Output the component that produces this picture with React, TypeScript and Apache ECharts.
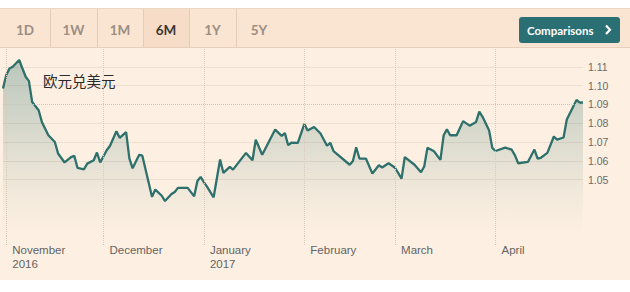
import { useEffect, useRef } from "react";
import * as echarts from "echarts";

const DATES = [
  "2016-10-31", "2016-11-01", "2016-11-02", "2016-11-03", "2016-11-05", "2016-11-06", "2016-11-07", "2016-11-08",
  "2016-11-09", "2016-11-11", "2016-11-12", "2016-11-14", "2016-11-16", "2016-11-17", "2016-11-19", "2016-11-21",
  "2016-11-22", "2016-11-23", "2016-11-25", "2016-11-26", "2016-11-28", "2016-11-29", "2016-11-30", "2016-12-02",
  "2016-12-03", "2016-12-05", "2016-12-06", "2016-12-08", "2016-12-09", "2016-12-10", "2016-12-12", "2016-12-13",
  "2016-12-16", "2016-12-17", "2016-12-19", "2016-12-20", "2016-12-22", "2016-12-23", "2016-12-24", "2016-12-27",
  "2016-12-29", "2016-12-30", "2016-12-31", "2017-01-01", "2017-01-02", "2017-01-04", "2017-01-06", "2017-01-07",
  "2017-01-09", "2017-01-10", "2017-01-14", "2017-01-16", "2017-01-17", "2017-01-19", "2017-01-23", "2017-01-25",
  "2017-01-26", "2017-01-27", "2017-01-28", "2017-01-30", "2017-02-01", "2017-02-02", "2017-02-04", "2017-02-06",
  "2017-02-08", "2017-02-09", "2017-02-10", "2017-02-15", "2017-02-16", "2017-02-17", "2017-02-18", "2017-02-20",
  "2017-02-22", "2017-02-24", "2017-02-25", "2017-02-27", "2017-03-01", "2017-03-03", "2017-03-04", "2017-03-07",
  "2017-03-09", "2017-03-10", "2017-03-11", "2017-03-13", "2017-03-15", "2017-03-16", "2017-03-17", "2017-03-18",
  "2017-03-20", "2017-03-22", "2017-03-24", "2017-03-26", "2017-03-27", "2017-03-28", "2017-03-30", "2017-03-31",
  "2017-04-01", "2017-04-04", "2017-04-06", "2017-04-07", "2017-04-08", "2017-04-11", "2017-04-13", "2017-04-14",
  "2017-04-15", "2017-04-17", "2017-04-19", "2017-04-20", "2017-04-22", "2017-04-23", "2017-04-26", "2017-04-27",
  "2017-04-28",
];

const RATES = [
  1.0985, 1.1056, 1.1091, 1.11, 1.1136, 1.1091, 1.1047, 1.1024,
  1.0913, 1.0869, 1.0807, 1.0736, 1.07, 1.0639, 1.0591, 1.062,
  1.0626, 1.0562, 1.0555, 1.0585, 1.0603, 1.0644, 1.0591, 1.0656,
  1.0679, 1.0757, 1.0722, 1.0752, 1.0613, 1.056, 1.0631, 1.0627,
  1.0408, 1.0447, 1.0414, 1.0386, 1.0423, 1.0434, 1.0456, 1.0456,
  1.0411, 1.0493, 1.0514, 1.0487, 1.0461, 1.0406, 1.0607, 1.0536,
  1.0568, 1.0553, 1.0642, 1.0603, 1.0712, 1.0632, 1.0766, 1.0733,
  1.0747, 1.0683, 1.0696, 1.0695, 1.0796, 1.0761, 1.078, 1.0745,
  1.068, 1.0696, 1.0652, 1.0579, 1.0599, 1.0672, 1.0612, 1.0612,
  1.0532, 1.0576, 1.0564, 1.0587, 1.0563, 1.0505, 1.062, 1.0579,
  1.0539, 1.057, 1.067, 1.0651, 1.0605, 1.0736, 1.0767, 1.0736,
  1.0736, 1.0811, 1.0787, 1.0807, 1.0862, 1.0834, 1.0763, 1.0669,
  1.0652, 1.067, 1.0659, 1.0629, 1.0587, 1.0594, 1.066, 1.0612,
  1.0616, 1.0642, 1.0729, 1.0713, 1.0724, 1.082, 1.0924, 1.0909,
  1.091,
];

const X_MIN = "2016-10-31";
const X_MAX = "2017-04-28";
const MONTH_STARTS = ["2016-11-01", "2016-12-01", "2017-01-01", "2017-02-01", "2017-03-01", "2017-04-01"];
const MONTH_LABELS = ["November\n2016", "December", "January\n2017", "February", "March", "April"];
const Y_MIN = 1.02;
const Y_MAX = 1.12;
const Y_STEP = 0.01;
const Y_LABEL_MIN = 1.05;
const Y_LABEL_MAX = 1.11;
const LAST_LEVEL = 1.09;
const TITLE = "欧元兑美元";
const RANGE_TABS = ["1D", "1W", "1M", "6M", "1Y", "5Y"];
const ACTIVE_TAB = "6M";
const BUTTON_TEXT = "Comparisons";

const ts = (d: string) => +echarts.time.parse(d);

export default function App() {
  const ref = useRef<HTMLDivElement>(null);

  useEffect(() => {
    if (!ref.current) return;
    const chart = echarts.init(ref.current, undefined, { renderer: "svg" });
    const monthTs = MONTH_STARTS.map(ts);

    const splitColors: string[] = [];
    const nTicks = Math.round((Y_MAX - Y_MIN) / Y_STEP) + 1;
    for (let i = 0; i < nTicks; i++) {
      const r = Math.round((Y_MIN + i * Y_STEP) * 100) / 100;
      const show = r >= Y_LABEL_MIN - 1e-9 && r <= Y_LABEL_MAX + 1e-9 && Math.abs(r - LAST_LEVEL) > 1e-9;
      splitColors.push(show ? "#efdfcf" : "rgba(0,0,0,0)");
    }

    const tabEdges = [0, 50, 97, 143, 189, 236];
    const tabGraphics: any[] = [];
    RANGE_TABS.forEach((t, i) => {
      const x0 = tabEdges[i];
      const x1 = i + 1 < tabEdges.length ? tabEdges[i + 1] : x0 + 46;
      if (t === ACTIVE_TAB) {
        tabGraphics.push({
          type: "rect",
          shape: { x: x0, y: 9, width: x1 - x0, height: 38 },
          style: { fill: "#f7dcc7" },
          z: 1,
        });
      }
      if (i > 0) {
        tabGraphics.push({
          type: "line",
          shape: { x1: x0 + 0.5, y1: 9, x2: x0 + 0.5, y2: 47 },
          style: { stroke: "#e4cdb7", lineWidth: 1 },
          z: 2,
        });
      }
      tabGraphics.push({
        type: "text",
        x: (x0 + x1) / 2,
        y: 29.5,
        style: {
          text: t,
          textAlign: "center",
          textVerticalAlign: "middle",
          fontFamily: "Lato",
          fontSize: 13.5,
          fontWeight: "bold",
          fill: t === ACTIVE_TAB ? "#3b3835" : "#9c8e83",
        },
        z: 3,
      });
    });

    chart.setOption({
      animation: false,
      backgroundColor: "transparent",
      grid: { left: 3, right: 47, top: 48, bottom: 56, containLabel: false },
      xAxis: {
        type: "value",
        min: ts(X_MIN),
        max: ts(X_MAX),
        axisLine: { show: false },
        splitLine: { show: false },
        axisTick: {
          show: true,
          customValues: monthTs,
          length: 9,
          lineStyle: { color: "#d9c9b9", type: "dotted", width: 1 },
        },
        axisLabel: {
          customValues: monthTs,
          align: "left",
          margin: 7,
          padding: [0, 0, 0, 6],
          color: "#636363",
          fontFamily: "Liberation Sans",
          fontSize: 11.5,
          lineHeight: 14,
          formatter: (v: number) => {
            const idx = monthTs.indexOf(+v);
            return idx >= 0 ? MONTH_LABELS[idx] : "";
          },
        },
      },
      yAxis: {
        type: "value",
        position: "right",
        min: Y_MIN,
        max: Y_MAX,
        interval: Y_STEP,
        axisLine: { show: false },
        axisTick: { show: false },
        splitLine: { show: true, lineStyle: { color: splitColors, width: 1 } },
        axisLabel: {
          margin: 5,
          color: "#6a6a6a",
          fontFamily: "Liberation Sans",
          fontSize: 10.5,
          formatter: (v: number) => {
            const r = Math.round(v * 100) / 100;
            return r >= Y_LABEL_MIN - 1e-9 && r <= Y_LABEL_MAX + 1e-9 ? r.toFixed(2) : "";
          },
        },
      },
      series: [
        {
          type: "line",
          data: DATES.map((d, i) => [ts(d), RATES[i]]),
          showSymbol: false,
          symbol: "none",
          lineStyle: { color: "#2e706c", width: 2.3 },
          areaStyle: {
            color: new echarts.graphic.LinearGradient(0, 0, 0, 1, [
              { offset: 0, color: "rgba(46,112,108,0.46)" },
              { offset: 0.75, color: "rgba(46,112,108,0.08)" },
              { offset: 1, color: "rgba(46,112,108,0)" },
            ]),
          },
          markLine: {
            silent: true,
            symbol: ["none", "none"],
            label: { show: false },
            data: [
              ...monthTs.map((t) => ({
                xAxis: t,
                lineStyle: { color: "#d9c9b9", type: "dotted", width: 1 },
              })),
              { yAxis: LAST_LEVEL, lineStyle: { color: "#cfc5bb", type: "dotted", width: 1 } },
            ],
          },
          z: 3,
        },
      ],
      graphic: [
        ...tabGraphics,
        {
          type: "rect",
          shape: { x: 519, y: 17, width: 101, height: 26, r: 3 },
          style: { fill: "#2a6f74" },
          z: 4,
        },
        {
          type: "text",
          x: 527,
          y: 30,
          style: {
            text: BUTTON_TEXT,
            textVerticalAlign: "middle",
            fontFamily: "Lato",
            fontSize: 11.5,
            fontWeight: "bold",
            fill: "#ffffff",
          },
          z: 5,
        },
        {
          type: "polyline",
          shape: { points: [[606, 25.5], [610, 29.8], [606, 34]] },
          style: { stroke: "#ffffff", lineWidth: 2.2, fill: "none" },
          z: 5,
        },
        {
          type: "text",
          x: 43,
          y: 80.5,
          style: {
            text: TITLE,
            textVerticalAlign: "middle",
            fontFamily: "Noto Sans CJK SC",
            fontSize: 14.5,
            fill: "#2b2b2b",
          },
          z: 5,
        },
      ],
    });

    return () => chart.dispose();
  }, []);

  return (
    <div style={{ position: "fixed", left: 0, top: 0, width: 630, height: 292, background: "#ffffff" }}>
      <div
        style={{
          position: "absolute",
          left: 0,
          top: 8,
          width: 630,
          height: 38,
          background: "#fae5d2",
          borderTop: "1px solid #ead6c3",
          borderBottom: "1px solid #e6d0bb",
        }}
      />
      <div style={{ position: "absolute", left: 0, top: 48, width: 630, height: 232, background: "#fdf0e2" }} />
      <div ref={ref} style={{ position: "absolute", left: 0, top: 0, width: 630, height: 292 }} />
    </div>
  );
}
